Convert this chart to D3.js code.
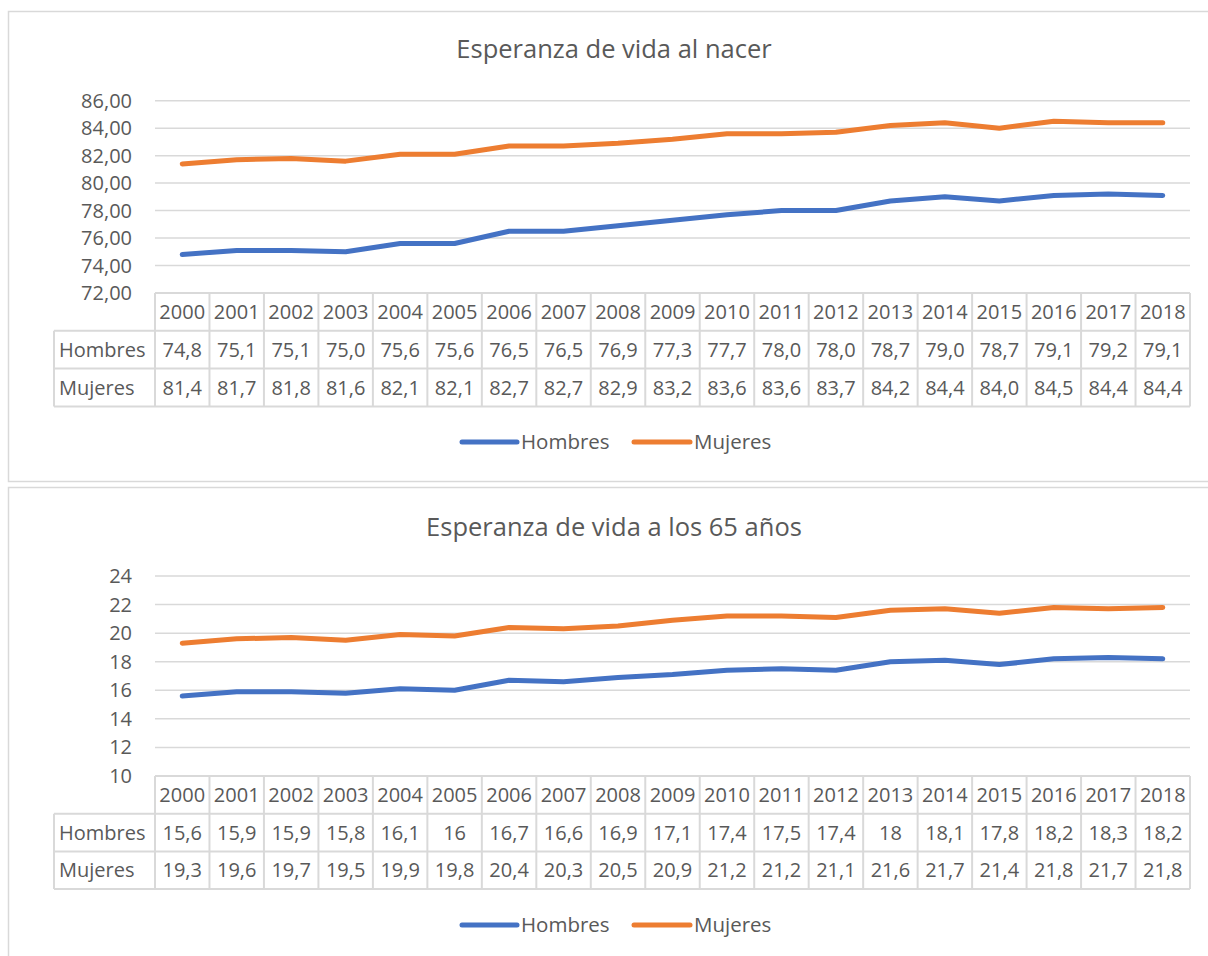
<!DOCTYPE html>
<html>
<head>
<meta charset="utf-8">
<script src="https://cdn.jsdelivr.net/npm/d3@7"></script>
<style>
  html, body { margin: 0; padding: 0; background: #fff; }
  svg { display: block; font-family: "Open Sans", sans-serif; }
</style>
</head>
<body>
<svg id="chart" width="1208" height="956"></svg>
<script>
const years = ["2000","2001","2002","2003","2004","2005","2006","2007","2008","2009","2010","2011","2012","2013","2014","2015","2016","2017","2018"];
const seriesNames = ["Hombres", "Mujeres"];
const birthHombres = [74.8,75.1,75.1,75.0,75.6,75.6,76.5,76.5,76.9,77.3,77.7,78.0,78.0,78.7,79.0,78.7,79.1,79.2,79.1];
const birthMujeres = [81.4,81.7,81.8,81.6,82.1,82.1,82.7,82.7,82.9,83.2,83.6,83.6,83.7,84.2,84.4,84.0,84.5,84.4,84.4];
const age65Hombres = [15.6,15.9,15.9,15.8,16.1,16,16.7,16.6,16.9,17.1,17.4,17.5,17.4,18,18.1,17.8,18.2,18.3,18.2];
const age65Mujeres = [19.3,19.6,19.7,19.5,19.9,19.8,20.4,20.3,20.5,20.9,21.2,21.2,21.1,21.6,21.7,21.4,21.8,21.7,21.8];
const birthTicks = [72,74,76,78,80,82,84,86];
const age65Ticks = [10,12,14,16,18,20,22,24];
const titles = ["Esperanza de vida al nacer", "Esperanza de vida a los 65 años"];

const colors = ["#4472C4", "#ED7D31"];
const textColor = "#595959";
const gridColor = "#D9D9D9";

const svg = d3.select("#chart");

function fmtComma(v, digits) {
  return (digits == null ? String(v) : v.toFixed(digits)).replace(".", ",");
}

function drawChart(cfg) {
  const g = svg.append("g").attr("transform", `translate(0,${cfg.top})`);
  // outer border
  g.append("rect")
    .attr("x", 8.5).attr("y", 0.5)
    .attr("width", 1215).attr("height", cfg.boxH)
    .attr("fill", "#fff").attr("stroke", gridColor).attr("stroke-width", 1.5);

  // title
  g.append("text")
    .attr("x", 614).attr("y", cfg.titleY)
    .attr("text-anchor", "middle")
    .attr("fill", textColor)
    .attr("font-size", 25.5)
    .text(cfg.title);

  const x = d3.scaleBand().domain(years).range([155, 1190]);
  const y = d3.scaleLinear().domain([cfg.ticks[0], cfg.ticks[cfg.ticks.length - 1]])
    .range([cfg.plotBottom, cfg.plotTop]);

  // gridlines
  g.append("g").selectAll("line").data(cfg.ticks).join("line")
    .attr("x1", 155).attr("x2", 1190)
    .attr("y1", d => y(d)).attr("y2", d => y(d))
    .attr("stroke", gridColor).attr("stroke-width", 1.5);

  // y labels
  g.append("g").selectAll("text").data(cfg.ticks).join("text")
    .attr("x", 132).attr("y", d => y(d))
    .attr("dy", "0.35em")
    .attr("text-anchor", "end")
    .attr("fill", textColor)
    .attr("font-size", 20)
    .text(d => cfg.tickFmt(d));

  // lines
  const line = d3.line()
    .x((d, i) => x(years[i]) + x.bandwidth() / 2)
    .y(d => y(d));
  cfg.series.forEach((s, k) => {
    g.append("path")
      .datum(s)
      .attr("d", line)
      .attr("fill", "none")
      .attr("stroke", colors[k])
      .attr("stroke-width", 5)
      .attr("stroke-linecap", "round")
      .attr("stroke-linejoin", "round");
  });

  // data table
  const t0 = cfg.plotBottom;
  const rowH = cfg.rowH;
  const rowsY = [t0, t0 + rowH, t0 + 2 * rowH, t0 + 3 * rowH];
  const tg = g.append("g");
  tg.append("line").attr("x1", 155).attr("x2", 1190).attr("y1", rowsY[0]).attr("y2", rowsY[0]);
  [1, 2, 3].forEach(r => {
    tg.append("line").attr("x1", 54).attr("x2", 1190).attr("y1", rowsY[r]).attr("y2", rowsY[r]);
  });
  tg.append("line").attr("x1", 54).attr("x2", 54).attr("y1", rowsY[1]).attr("y2", rowsY[3]);
  const bounds = years.map(yr => x(yr)).concat([1190]);
  tg.selectAll("line.v").data(bounds).join("line").attr("class", "v")
    .attr("x1", d => d).attr("x2", d => d)
    .attr("y1", rowsY[0]).attr("y2", rowsY[3]);
  tg.selectAll("line").attr("stroke", gridColor).attr("stroke-width", 2);

  tg.selectAll("text.yr").data(years).join("text").attr("class", "yr")
    .attr("x", d => x(d) + x.bandwidth() / 2)
    .attr("y", (rowsY[0] + rowsY[1]) / 2)
    .attr("dy", "0.35em")
    .attr("text-anchor", "middle")
    .attr("fill", textColor).attr("font-size", 20)
    .text(d => d);

  cfg.series.forEach((s, k) => {
    const cy = (rowsY[k + 1] + rowsY[k + 2]) / 2;
    tg.append("text")
      .attr("x", 59).attr("y", cy).attr("dy", "0.35em")
      .attr("fill", textColor).attr("font-size", 20)
      .text(seriesNames[k]);
    tg.selectAll(null).data(s).join("text")
      .attr("x", (d, i) => x(years[i]) + x.bandwidth() / 2)
      .attr("y", cy).attr("dy", "0.35em")
      .attr("text-anchor", "middle")
      .attr("fill", textColor).attr("font-size", 20)
      .text(d => cfg.valFmt(d));
  });

  // legend
  const lg = g.append("g");
  const legendItems = [{x0: 462, x1: 517, tx: 521}, {x0: 634, x1: 690, tx: 694}];
  legendItems.forEach((it, k) => {
    lg.append("line")
      .attr("x1", it.x0).attr("x2", it.x1)
      .attr("y1", cfg.legendY).attr("y2", cfg.legendY)
      .attr("stroke", colors[k]).attr("stroke-width", 5)
      .attr("stroke-linecap", "round");
    lg.append("text")
      .attr("x", it.tx).attr("y", cfg.legendY).attr("dy", "0.35em")
      .attr("fill", textColor).attr("font-size", 20.5)
      .text(seriesNames[k]);
  });
}

drawChart({
  top: 11,
  boxH: 470,
  title: titles[0],
  titleY: 47,
  ticks: birthTicks,
  plotTop: 89.7,
  plotBottom: 282,
  rowH: 37.8,
  tickFmt: d => fmtComma(d, 2),
  valFmt: d => fmtComma(d, 1),
  series: [birthHombres, birthMujeres],
  legendY: 431
});

drawChart({
  top: 487,
  boxH: 500,
  title: titles[1],
  titleY: 48.5,
  ticks: age65Ticks,
  plotTop: 89,
  plotBottom: 289,
  rowH: 37.7,
  tickFmt: d => String(d),
  valFmt: d => fmtComma(d),
  series: [age65Hombres, age65Mujeres],
  legendY: 438
});
</script>
</body>
</html>
